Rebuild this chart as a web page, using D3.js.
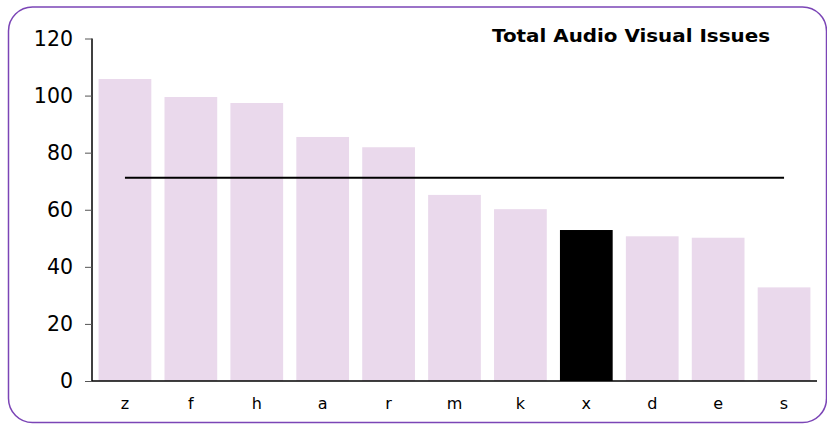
<!DOCTYPE html>
<html>
<head>
<meta charset="utf-8">
<script src="https://cdn.jsdelivr.net/npm/d3@7"></script>
<style>
html,body{margin:0;padding:0;background:#fff;}
svg{display:block;}
</style>
</head>
<body>
<svg id="chart" width="827" height="425"></svg>
<script>
const categories = ["z","f","h","a","r","m","k","x","d","e","s"];
const values = [105.8, 99.5, 97.4, 85.5, 81.9, 65.2, 60.2, 52.9, 50.7, 50.2, 32.8];
const highlight = "x";
const averageValue = 71.2;
const yTicks = [0, 20, 40, 60, 80, 100, 120];
const title = "Total Audio Visual Issues";

const svg = d3.select("#chart");
const font = "'DejaVu Sans', Verdana, sans-serif";

svg.append("rect")
  .attr("x", 8.5).attr("y", 7).attr("width", 818).attr("height", 415.5)
  .attr("rx", 24).attr("ry", 24)
  .attr("fill", "#fff").attr("stroke", "#7b45b6").attr("stroke-width", 1.5);

const x = d3.scaleBand().domain(categories).range([92, 817]).paddingInner(0.2).paddingOuter(0.1);
const y = d3.scaleLinear().domain([0, 120]).range([381, 38.5]);

svg.selectAll("rect.bar").data(categories).enter().append("rect")
  .attr("class", "bar")
  .attr("x", d => x(d))
  .attr("y", (d, i) => y(values[i]))
  .attr("width", x.bandwidth())
  .attr("height", (d, i) => y(0) - y(values[i]))
  .attr("fill", d => d === highlight ? "#000000" : "#ead9ec");

// average line through band centers
const line = d3.line().x(d => x(d) + x.bandwidth() / 2).y(() => y(averageValue));
svg.append("path")
  .datum([categories[0], categories[categories.length - 1]])
  .attr("d", line)
  .attr("stroke", "#000").attr("stroke-width", 2).attr("fill", "none");

// y axis
const yAxis = d3.axisLeft(y).tickValues(yTicks).tickSize(7).tickPadding(12);
const gy = svg.append("g").attr("transform", "translate(92,0)").call(yAxis);
gy.select(".domain").attr("stroke", "#000").attr("stroke-width", 1.5).attr("d", `M0,${y(120)}V${y(0)}`);
gy.selectAll(".tick line").attr("stroke", "#555");
gy.selectAll(".tick text").attr("font-family", font).attr("font-size", 20.5).attr("fill", "#000");

// x axis
const xAxis = d3.axisBottom(x).tickSize(0).tickPadding(17);
const gx = svg.append("g").attr("transform", `translate(0,${y(0)})`).call(xAxis);
gx.select(".domain").attr("stroke", "#000").attr("stroke-width", 1.5).attr("d", `M92,0H817`);
gx.selectAll(".tick text").attr("font-family", font).attr("font-size", 16).attr("fill", "#000");

svg.append("text")
  .attr("x", 492).attr("y", 41.5)
  .attr("text-anchor", "start")
  .attr("font-family", font).attr("font-weight", "bold").attr("font-size", 18)
  .attr("textLength", 278).attr("lengthAdjust", "spacingAndGlyphs")
  .attr("fill", "#000")
  .text(title);
</script>
</body>
</html>
